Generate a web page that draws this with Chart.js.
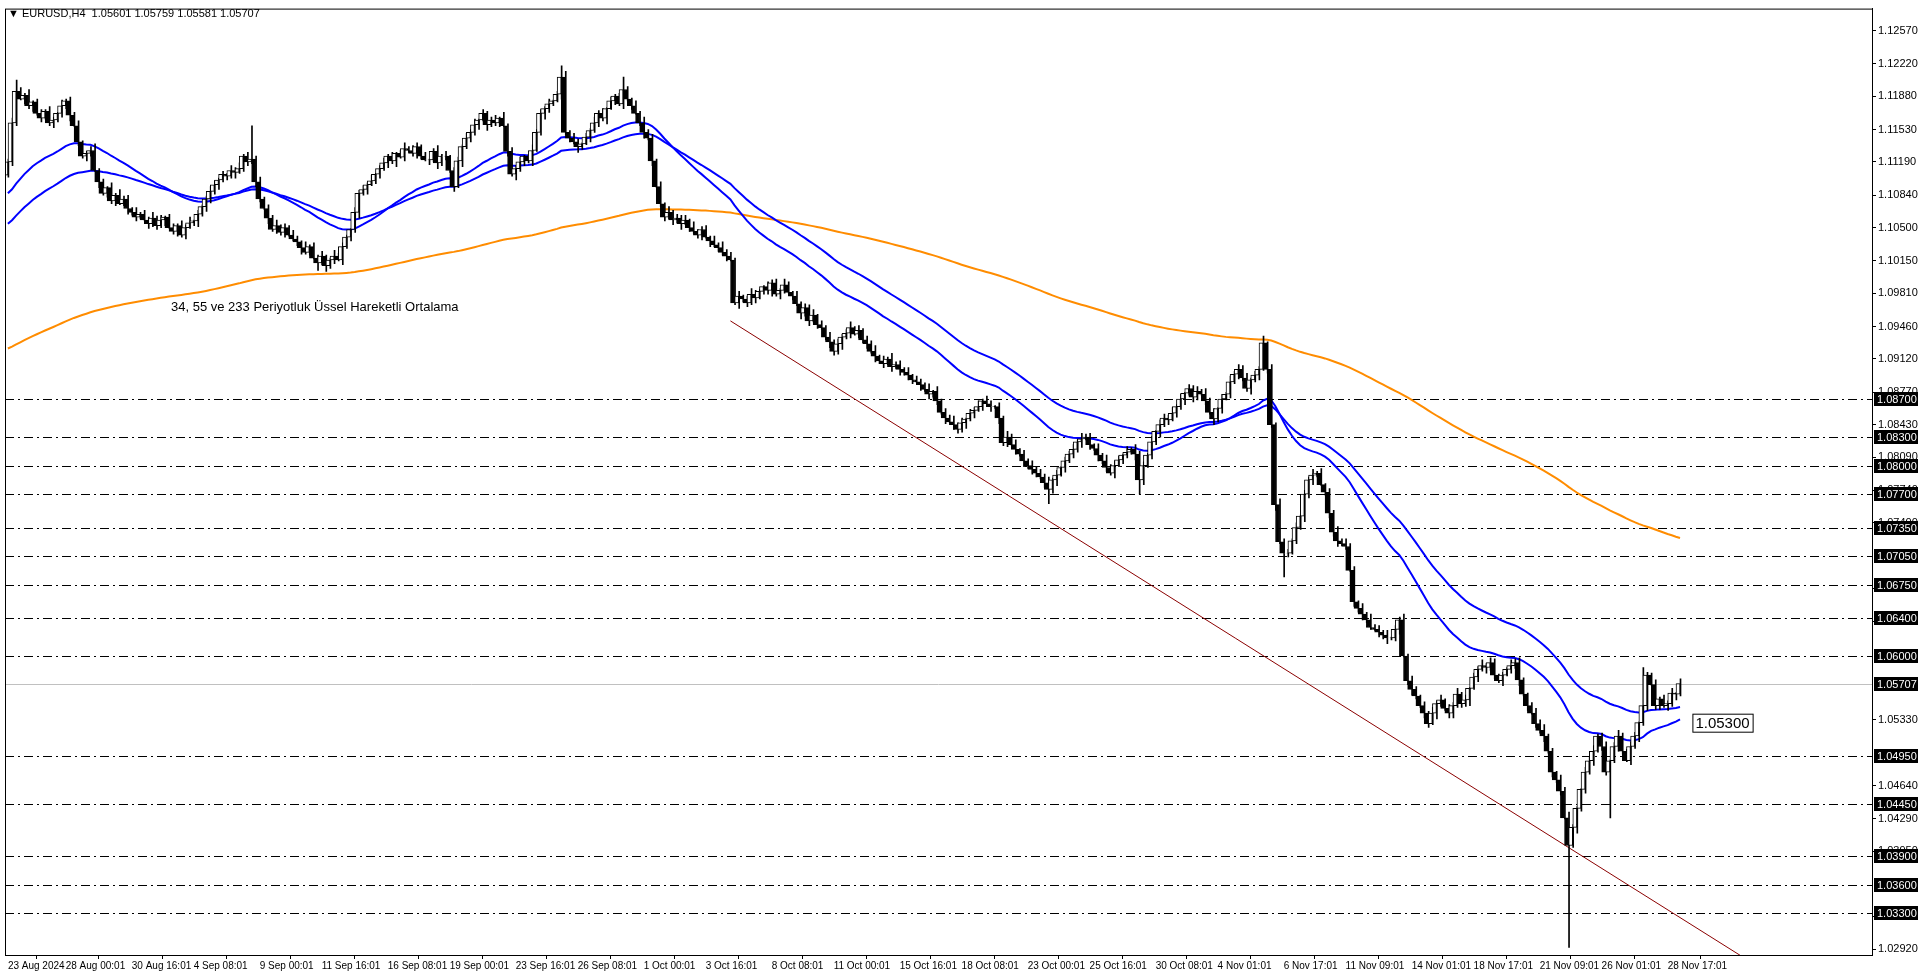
<!DOCTYPE html>
<html>
<head>
<meta charset="utf-8">
<script src="https://cdn.jsdelivr.net/npm/chart.js@4"></script>
<style>
  html, body { margin: 0; padding: 0; background: #fff; }
  canvas { display: block; }
</style>
</head>
<body>
<canvas id="c" width="1920" height="976"></canvas>
<script>
// closes, in 0.0001 units
const closes = [
  11119,11160,11193,11185,11189,11178,11182,11170,11165,11172,
  11160,11163,11170,11178,11183,11168,11157,11140,11125,11128,
  11131,11110,11098,11086,11092,11078,11084,11075,11080,11070,
  11066,11061,11064,11058,11054,11060,11052,11058,11061,11050,
  11046,11052,11042,11050,11055,11057,11064,11072,11080,11088,
  11095,11100,11106,11104,11110,11108,11112,11125,11119,11122,
  11098,11080,11070,11060,11048,11052,11045,11050,11042,11038,
  11035,11029,11024,11030,11018,11013,11020,11010,11016,11020,
  11016,11030,11040,11048,11066,11086,11090,11095,11099,11106,
  11112,11118,11125,11120,11128,11124,11133,11131,11128,11135,
  11125,11121,11121,11130,11118,11125,11125,11110,11093,11120,
  11135,11144,11150,11158,11163,11170,11158,11163,11160,11165,
  11157,11130,11106,11112,11119,11125,11120,11131,11150,11170,
  11175,11180,11183,11190,11208,11150,11144,11140,11135,11138,
  11145,11152,11160,11170,11165,11175,11183,11188,11180,11195,
  11185,11178,11170,11160,11150,11144,11120,11093,11075,11061,
  11066,11058,11060,11054,11058,11050,11046,11042,11048,11040,
  11036,11032,11029,11024,11020,11016,10971,10978,10975,10971,
  10980,10976,10983,10988,10984,10992,10980,10984,10990,10982,
  10978,10970,10960,10966,10952,10958,10948,10945,10935,10930,
  10920,10928,10935,10939,10945,10938,10942,10932,10928,10920,
  10915,10910,10907,10912,10904,10906,10901,10898,10895,10890,
  10888,10885,10880,10875,10878,10868,10856,10850,10846,10843,
  10838,10845,10849,10855,10858,10862,10868,10865,10862,10862,
  10850,10824,10830,10822,10817,10812,10805,10800,10796,10792,
  10788,10782,10775,10785,10790,10798,10805,10812,10817,10825,
  10828,10830,10822,10818,10811,10805,10798,10792,10800,10806,
  10811,10814,10817,10812,10785,10800,10811,10825,10836,10843,
  10850,10848,10855,10862,10870,10876,10881,10872,10878,10875,
  10868,10856,10849,10860,10870,10875,10888,10896,10901,10892,
  10881,10890,10895,10901,10929,10901,10843,10759,10720,10708,
  10708,10721,10735,10747,10770,10785,10790,10792,10780,10772,
  10750,10730,10721,10718,10715,10690,10657,10650,10644,10638,
  10630,10628,10625,10622,10619,10619,10628,10638,10600,10574,
  10565,10558,10548,10540,10529,10540,10550,10554,10545,10540,
  10548,10560,10550,10554,10566,10578,10586,10590,10588,10593,
  10580,10574,10580,10586,10590,10593,10575,10560,10548,10540,
  10529,10522,10516,10500,10478,10470,10458,10430,10401,10420,
  10440,10460,10478,10490,10500,10516,10505,10478,10490,10505,
  10516,10500,10490,10505,10516,10530,10548,10580,10570,10548,
  10555,10548,10550,10561,10560,10571
];
const firstOpen = 11105;
// wick sizes in pips (one digit per bar)
const wickUp =
  '35242613425316243512472315263415243625134253614235' +
  '42315362413524361425316243512634215342613524136254' +
  '24136251342536142351624351263425134625314263514236' +
  '31526342516243516234152634251364215342631524361425' +
  '25346152436152634251432615243625143625314263514253' +
  '43625143526341526354162534261543625143526341526354' +
  '52436152634251436251436253415263425143625314263514' +
  '36251436254132645213546231546321546235146325416325' +
  '2435162534';
const wickDn =
  '24315362413524361425316243512634215342613524136254' +
  '35242613425316243512472315263415243625134253614235' +
  '31526342516243516234152634251364215342631524361425' +
  '24136251342536142351624351263425134625314263514236' +
  '43625143526341526354162534261543625143526341526354' +
  '25346152436152634251432615243625143625314263514253' +
  '36251436254132645213546231546321546235146325416325' +
  '52436152634251436251436253415263425143625314263514' +
  '4253614231';
// big wicks: [bar, high, low]
const spikes = [
  [2, 11205, null], [59, 11157, null], [75, null, 11005], [134, 11220, null],
  [149, 11208, null], [252, null, 10760], [274, null, 10770], [304, 10936, null],
  [309, null, 10683], [378, null, 10294], [388, null, 10430], [396, 10588, null],
  [405, 10576, 10558]
];
const levels = [1.0870, 1.0830, 1.0800, 1.0770, 1.0735, 1.0705, 1.0675, 1.0640,
  1.0600, 1.0495, 1.0445, 1.0390, 1.0360, 1.0330];
const lastPrice = 1.05707;
const priceTicks = [1.12570, 1.12220, 1.11880, 1.11530, 1.11190, 1.10840, 1.10500,
  1.10150, 1.09810, 1.09460, 1.09120, 1.08770, 1.08430, 1.08090, 1.07740, 1.07400,
  1.06710, 1.06360, 1.05330, 1.04640, 1.04290, 1.03950, 1.03260, 1.02920];
const timeLabels = ['23 Aug 2024', '28 Aug 00:01', '30 Aug 16:01', '4 Sep 08:01', '9 Sep 00:01',
  '11 Sep 16:01', '16 Sep 08:01', '19 Sep 00:01', '23 Sep 16:01', '26 Sep 08:01', '1 Oct 00:01',
  '3 Oct 16:01', '8 Oct 08:01', '11 Oct 00:01', '15 Oct 16:01', '18 Oct 08:01', '23 Oct 00:01',
  '25 Oct 16:01', '30 Oct 08:01', '4 Nov 01:01', '6 Nov 17:01', '11 Nov 09:01', '14 Nov 01:01',
  '18 Nov 17:01', '21 Nov 09:01', '26 Nov 01:01', '28 Nov 17:01'];
const timeIdx = [0, 14, 30, 45, 61, 76, 92, 107, 123, 138, 154, 169, 185, 200, 216, 231,
  247, 262, 278, 293, 309, 324, 340, 355, 371, 386, 402];
const emaSeeds = { 34: 1.1086, 55: 1.1054, 233: 1.0923 };
const trend = [[175, 1.0952], [451, 1.0200]];
const boxLabel = { x: 408, y: 1.0530, text: '1.05300' };

// build OHLC
const bodies = [], wicks = [], bodyCol = [];
for (let i = 0; i < closes.length; i++) {
  const c = closes[i] / 10000;
  const o = (i === 0 ? firstOpen : closes[i - 1]) / 10000;
  let h = Math.max(o, c) + (+wickUp[i]) / 10000;
  let l = Math.min(o, c) - (+wickDn[i]) / 10000;
  spikes.forEach(s => {
    if (s[0] === i) {
      if (s[1] !== null) h = s[1] / 10000;
      if (s[2] !== null) l = s[2] / 10000;
    }
  });
  wicks.push({ x: i, y: [l, h] });
  bodies.push({ x: i, y: [o, c === o ? o + 0.00002 : c] });
  bodyCol.push(c >= o ? '#ffffff' : '#000000');
}
function ema(n) {
  const k = 2 / (n + 1);
  let v = emaSeeds[n];
  return closes.map((c, i) => {
    if (i > 0) v = c / 10000 * k + v * (1 - k);
    return { x: i, y: v };
  });
}

const FONT = "'Liberation Sans', Arial, sans-serif";

const overlay = {
  id: 'overlay',
  beforeDatasetsDraw(chart) {
    const ctx = chart.ctx, a = chart.chartArea, ys = chart.scales.y;
    ctx.save();
    ctx.lineWidth = 1;
    ctx.strokeStyle = '#c0c0c0';
    let y = Math.round(ys.getPixelForValue(lastPrice)) + 0.5;
    ctx.beginPath(); ctx.moveTo(a.left, y); ctx.lineTo(a.right, y); ctx.stroke();
    ctx.strokeStyle = '#000';
    ctx.setLineDash([9, 4, 2, 4]);
    levels.forEach(v => {
      const yy = Math.round(ys.getPixelForValue(v)) + 0.5;
      ctx.beginPath(); ctx.moveTo(a.left, yy); ctx.lineTo(a.right, yy); ctx.stroke();
    });
    ctx.restore();
  },
  afterDraw(chart) {
    const ctx = chart.ctx, a = chart.chartArea, ys = chart.scales.y, xs = chart.scales.x;
    ctx.save();
    ctx.strokeStyle = '#000';
    ctx.lineWidth = 1;
    ctx.strokeRect(a.left + 0.5, a.top + 0.5, a.right - a.left, a.bottom - a.top);
    ctx.font = '11px ' + FONT;
    ctx.textBaseline = 'middle';
    levels.concat([lastPrice]).forEach(v => {
      const yy = Math.round(ys.getPixelForValue(v));
      ctx.fillStyle = '#000';
      ctx.fillRect(a.right + 2, yy - 7, 44, 14);
      ctx.fillStyle = '#fff';
      ctx.fillText(v.toFixed(5), a.right + 5, yy + 1);
    });
    // boxed price label
    const bx = xs.getPixelForValue(boxLabel.x), by = ys.getPixelForValue(boxLabel.y);
    ctx.font = '15px ' + FONT;
    const w = ctx.measureText(boxLabel.text).width + 6;
    ctx.fillStyle = '#fff';
    ctx.fillRect(bx, by - 9, w, 18);
    ctx.strokeRect(bx + 0.5, by - 8.5, w, 18);
    ctx.fillStyle = '#000';
    ctx.fillText(boxLabel.text, bx + 3, by + 1);
    // header
    ctx.font = '11px ' + FONT;
    ctx.fillText('\u25BC EURUSD,H4  1.05601 1.05759 1.05581 1.05707', 8, 14);
    ctx.font = '13px ' + FONT;
    ctx.fillText('34, 55 ve 233 Periyotluk Üssel Hareketli Ortalama', 171, 307);
    ctx.restore();
  }
};

new Chart(document.getElementById('c').getContext('2d'), {
  data: {
    datasets: [
      { type: 'line', data: trend.map(p => ({ x: p[0], y: p[1] })), borderColor: '#8b0000',
        borderWidth: 1, pointRadius: 0, order: 5 },
      { type: 'line', data: ema(233), borderColor: '#ff8c00', borderWidth: 2, pointRadius: 0, order: 4 },
      { type: 'line', data: ema(55), borderColor: '#0000ff', borderWidth: 2, pointRadius: 0, order: 3 },
      { type: 'line', data: ema(34), borderColor: '#0000ff', borderWidth: 2, pointRadius: 0, order: 2 },
      { type: 'bar', data: wicks, backgroundColor: '#000', barThickness: 1, order: 1 },
      { type: 'bar', data: bodies, backgroundColor: bodyCol, borderColor: '#000', borderWidth: 1,
        borderSkipped: false, barThickness: 4, order: 0 }
    ]
  },
  options: {
    responsive: false,
    animation: false,
    layout: { padding: { left: 5, top: 5, right: 0, bottom: 0 } },
    plugins: { legend: { display: false }, tooltip: { enabled: false } },
    scales: {
      x: {
        type: 'linear', min: -0.7, max: 451.5, offset: false,
        afterBuildTicks: s => { s.ticks = timeIdx.map(v => ({ value: v })); },
        afterFit: s => { s.height = 21; },
        grid: { drawOnChartArea: false, color: '#000', tickLength: 4 },
        border: { color: '#000' },
        ticks: {
          align: 'start', maxRotation: 0, autoSkip: false, padding: 1,
          color: '#000', font: { family: FONT, size: 10 },
          callback: (v, i) => timeLabels[i]
        }
      },
      y: {
        position: 'right', min: 1.0286, max: 1.1280,
        afterBuildTicks: s => { s.ticks = priceTicks.map(v => ({ value: v })); },
        afterFit: s => { s.width = 48; },
        grid: { drawOnChartArea: false, color: '#000', tickLength: 4 },
        border: { color: '#000' },
        ticks: {
          padding: 2, color: '#000', font: { family: FONT, size: 11 },
          callback: v => v.toFixed(5)
        }
      }
    }
  },
  plugins: [overlay]
});
</script>
</body>
</html>
